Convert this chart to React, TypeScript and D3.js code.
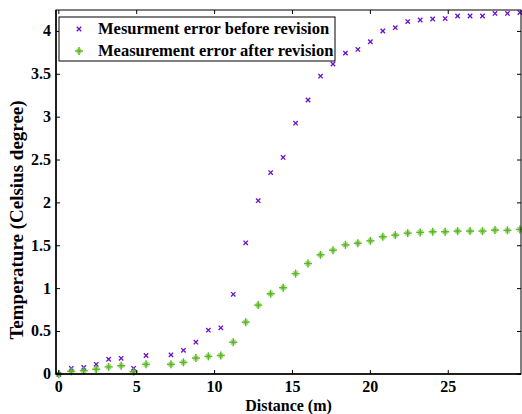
import React from "react";
import * as d3 from "d3";

const distances = [0, 0.8, 1.6, 2.4, 3.2, 4.0, 4.8, 5.6, 7.2, 8.0, 8.8, 9.6, 10.4, 11.2, 12.0, 12.8, 13.6, 14.4, 15.2, 16.0, 16.8, 17.6, 18.4, 19.2, 20.0, 20.8, 21.6, 22.4, 23.2, 24.0, 24.8, 25.6, 26.4, 27.2, 28.0, 28.8, 29.6];
const errorBefore = [0, 0.07, 0.08, 0.117, 0.176, 0.187, 0.07, 0.22, 0.227, 0.28, 0.375, 0.515, 0.543, 0.933, 1.534, 2.026, 2.354, 2.53, 2.93, 3.2, 3.478, 3.62, 3.747, 3.79, 3.88, 4.005, 4.044, 4.115, 4.133, 4.145, 4.15, 4.18, 4.18, 4.18, 4.21, 4.21, 4.22];
const errorAfter = [0, 0.035, 0.043, 0.06, 0.087, 0.1, 0.03, 0.117, 0.117, 0.14, 0.19, 0.21, 0.22, 0.375, 0.609, 0.808, 0.94, 1.01, 1.175, 1.293, 1.394, 1.448, 1.51, 1.53, 1.557, 1.604, 1.624, 1.647, 1.656, 1.663, 1.663, 1.671, 1.671, 1.671, 1.683, 1.68, 1.691];
const xTicks = [0, 5, 10, 15, 20, 25];
const yTicks = [0, 0.5, 1, 1.5, 2, 2.5, 3, 3.5, 4];
const seriesNames = ["Mesurment error before revision", "Measurement error after revision"];

const W = 522, H = 414;
const left = 56, right = 521, top = 10, bottom = 374;
const purple = "#6a0fd0";
const green = "#5cb824";
const font = "Liberation Serif, DejaVu Serif, serif";

function Cross({ x, y }: { x: number; y: number }) {
  const s = 2.2;
  return (
    <g stroke={purple} strokeWidth={1.3}>
      <line x1={x - s} y1={y - s} x2={x + s} y2={y + s} />
      <line x1={x - s} y1={y + s} x2={x + s} y2={y - s} />
    </g>
  );
}

function Star({ x, y }: { x: number; y: number }) {
  const s = 4, d = 2.3;
  return (
    <g stroke={green} strokeWidth={1.5}>
      <line x1={x - s} y1={y} x2={x + s} y2={y} />
      <line x1={x} y1={y - s} x2={x} y2={y + s} />
      <line x1={x - d} y1={y - d} x2={x + d} y2={y + d} strokeOpacity={0.6} />
      <line x1={x - d} y1={y + d} x2={x + d} y2={y - d} strokeOpacity={0.6} />
    </g>
  );
}

export default function App() {
  const x = d3.scaleLinear().domain([-0.18, 29.67]).range([left, right]);
  const y = d3.scaleLinear().domain([0.004, 4.25]).range([bottom, top]);
  const tl = 4;
  const ts: React.CSSProperties = { fontFamily: font, fontWeight: 700, fontSize: "16px" };
  const ls: React.CSSProperties = { fontFamily: font, fontWeight: 700, fontSize: "16.5px" };
  const ys: React.CSSProperties = { fontFamily: font, fontWeight: 700, fontSize: "19px" };
  return (
    <svg width={W} height={H} style={{ position: "absolute", left: 0, top: 0 }}>
      <rect x={0} y={0} width={W} height={H} fill="white" />
      {distances.map((d, i) => (
        <Cross key={"b" + i} x={x(d)} y={y(errorBefore[i])} />
      ))}
      {distances.map((d, i) => (
        <Star key={"a" + i} x={x(d)} y={y(errorAfter[i])} />
      ))}
      <rect x={left} y={top} width={right - left} height={bottom - top} fill="none" stroke="black" strokeWidth={1} />
      <line x1={left} y1={bottom} x2={right} y2={bottom} stroke="black" strokeWidth={1.5} />
      <line x1={left} y1={top} x2={left} y2={bottom} stroke="black" strokeWidth={1.5} />
      {xTicks.map((t) => (
        <g key={"xt" + t}>
          <line x1={x(t)} x2={x(t)} y1={bottom} y2={bottom - tl} stroke="black" />
          <line x1={x(t)} x2={x(t)} y1={top} y2={top + tl} stroke="black" />
          <text x={x(t)} y={bottom + 18} textAnchor="middle" style={ts}>{t}</text>
        </g>
      ))}
      {yTicks.map((t) => (
        <g key={"yt" + t}>
          <line x1={left} x2={left + tl} y1={y(t)} y2={y(t)} stroke="black" />
          <line x1={right} x2={right - tl} y1={y(t)} y2={y(t)} stroke="black" />
          <text x={left - 5} y={y(t) + 5} textAnchor="end" style={ts}>{t}</text>
        </g>
      ))}
      <text x={(left + right) / 2} y={411} textAnchor="middle" style={ts}>Distance (m)</text>
      <text transform={`translate(23, 220) rotate(-90)`} textAnchor="middle" style={ys}>Temperature (Celsius degree)</text>
      <rect x={59} y={17} width={276} height={44} fill="white" stroke="black" strokeWidth={1} />
      <Cross x={79} y={29} />
      <Star x={79} y={51} />
      <text x={98} y={34} style={ls}>{seriesNames[0]}</text>
      <text x={98} y={56} style={ls}>{seriesNames[1]}</text>
    </svg>
  );
}
